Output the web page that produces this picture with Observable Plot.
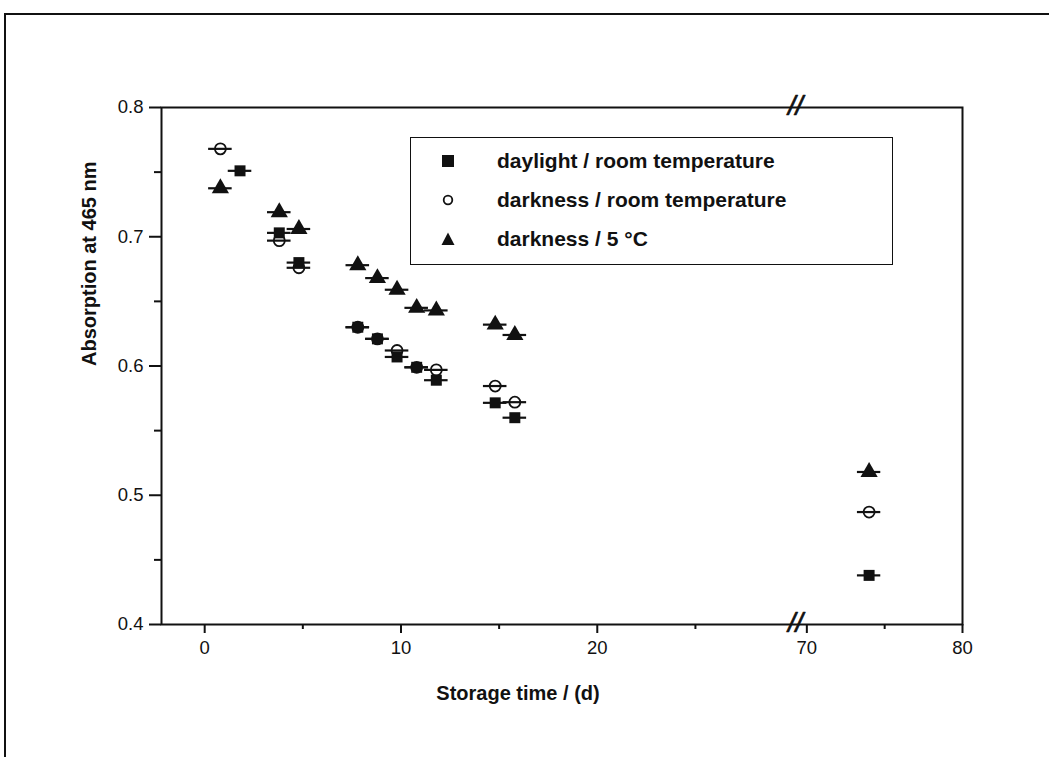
<!DOCTYPE html>
<html>
<head>
<meta charset="utf-8">
<script src="https://cdn.jsdelivr.net/npm/d3@7"></script>
<script src="https://cdn.jsdelivr.net/npm/@observablehq/plot@0.6"></script>
<style>
  html, body { margin: 0; padding: 0; background: #fff; overflow: hidden; }
  #wrap { position: relative; width: 1049px; height: 757px; font-family: "Liberation Sans", Arial, sans-serif; }
  #pageframe { position: absolute; left: 4px; top: 13px; width: 1100px; height: 800px; border-top: 2px solid #111; border-left: 2px solid #111; }
  #legend { position: absolute; left: 410px; top: 137px; width: 481px; height: 126px; border: 1.6px solid #111; background: #fff; }
  .row { position: absolute; left: 0; height: 30px; display: flex; align-items: center; font-weight: bold; font-size: 21px; color: #111; }
  .row svg { margin-left: 30px; margin-right: 42px; }
  #chart svg g[aria-label$="tick label"] { font-size: 18.5px; }
</style>
</head>
<body>
<div id="wrap">
  <div id="pageframe"></div>
  <div id="chart"></div>
  <div id="legend"></div>
</div>
<script>
// ---- data ----
const days      = [0.8, 1.8, 3.8, 4.8, 7.8, 8.8, 9.8, 10.8, 11.8, 14.8, 15.8, 74];
const xErr      = [0.6, 0.6, 0.6, 0.6, 0.6, 0.6, 0.6, 0.6, 0.6, 0.6, 0.6, 0.75];
const daylight  = [null, 0.751, 0.703, 0.680, 0.630, 0.621, 0.607, 0.599, 0.589, 0.5715, 0.560, 0.438];
const darkRoom  = [0.768, null, 0.697, 0.676, 0.630, 0.621, 0.612, 0.599, 0.597, 0.5845, 0.572, 0.487];
const dark5C    = [0.7375, null, 0.719, 0.706, 0.678, 0.668, 0.659, 0.645, 0.643, 0.632, 0.624, 0.518];
const seriesNames = ["daylight / room temperature", "darkness / room temperature", "darkness / 5 °C"];
const xMajorTicks = [0, 10, 20, 70, 80];
const xMinorTicks = [5, 15, 25, 75];
const yMajorTicks = [0.4, 0.5, 0.6, 0.7, 0.8];
const yMinorTicks = [0.45, 0.55, 0.65, 0.75];
const xBreak = 69.4;

function rows(values, name) {
  return days.map((d, i) => ({day: d, err: xErr[i], value: values[i], series: name}))
             .filter(r => r.value != null);
}
const sq = rows(daylight, seriesNames[0]);
const ci = rows(darkRoom, seriesNames[1]);
const tr = rows(dark5C, seriesNames[2]);
const all = [...sq, ...ci, ...tr];

const ink = "#111";
const chart = Plot.plot({
  width: 1049,
  height: 757,
  marginLeft: 161,
  marginRight: 87,
  marginTop: 107,
  marginBottom: 133,
  style: {fontFamily: "'Liberation Sans', Arial, sans-serif", fontSize: "18px", color: ink, background: "transparent"},
  x: {type: "linear", domain: [-2.2, 30.2, xBreak, 80], range: [161, 797, 797, 962]},
  y: {domain: [0.4, 0.8]},
  marks: [
    Plot.frame({stroke: ink, strokeWidth: 2}),
    Plot.axisX(xMajorTicks, {tickSize: 9, tickPadding: 7, strokeWidth: 2, stroke: ink, label: null, tickFormat: d => String(d), fontSize: 18}),
    Plot.axisX(xMinorTicks, {tickSize: 5, strokeWidth: 2, stroke: ink, label: null, tickFormat: () => ""}),
    Plot.axisY(yMajorTicks, {tickSize: 12, tickPadding: 6, strokeWidth: 2, stroke: ink, label: null, tickFormat: d3.format(".1f"), fontSize: 18}),
    Plot.axisY(yMinorTicks, {tickSize: 7, strokeWidth: 2, stroke: ink, label: null, tickFormat: () => ""}),
    // axis break marks
    Plot.text([0.8, 0.4], {x: xBreak, y: d => d, text: () => "//", fontSize: 27, fontStyle: "italic", fill: ink, dx: -2, dy: -1, stroke: ink, strokeWidth: 0.6}),
    // horizontal error bars
    Plot.ruleY(all, {y: "value", x1: d => d.day - d.err, x2: d => d.day + d.err, stroke: ink, strokeWidth: 2.2}),
    Plot.dot(sq, {x: "day", y: "value", symbol: "square", r: 6.2, fill: ink, stroke: "none"}),
    Plot.dot(ci, {x: "day", y: "value", symbol: "circle", r: 5.5, fill: "none", stroke: ink, strokeWidth: 1.8}),
    Plot.dot(tr, {x: "day", y: "value", symbol: "triangle", r: 6.4, fill: ink, stroke: "none"}),
    // axis titles
    Plot.text(["Absorption at 465 nm"], {frameAnchor: "left", dx: -72, rotate: -90, fontSize: 20, fontWeight: "bold", fill: ink}),
    Plot.text(["Storage time / (d)"], {frameAnchor: "bottom", dx: -44, dy: 75, fontSize: 20, fontWeight: "bold", fill: ink})
  ]
});
document.getElementById("chart").appendChild(chart);

// legend
const legend = document.getElementById("legend");
const symbolSvgs = [
  '<svg width="14" height="14"><rect x="1" y="1" width="12" height="12" fill="#111"/></svg>',
  '<svg width="14" height="14"><circle cx="7" cy="7" r="4.3" fill="none" stroke="#111" stroke-width="1.8"/></svg>',
  '<svg width="14" height="14"><path d="M7,0.5 L13.5,13 L0.5,13 Z" fill="#111"/></svg>'
];
const rowTops = [8, 47, 86];
seriesNames.forEach((name, i) => {
  const row = document.createElement("div");
  row.className = "row";
  row.style.top = rowTops[i] + "px";
  row.innerHTML = symbolSvgs[i] + "<span>" + name + "</span>";
  legend.appendChild(row);
});
</script>
</body>
</html>
